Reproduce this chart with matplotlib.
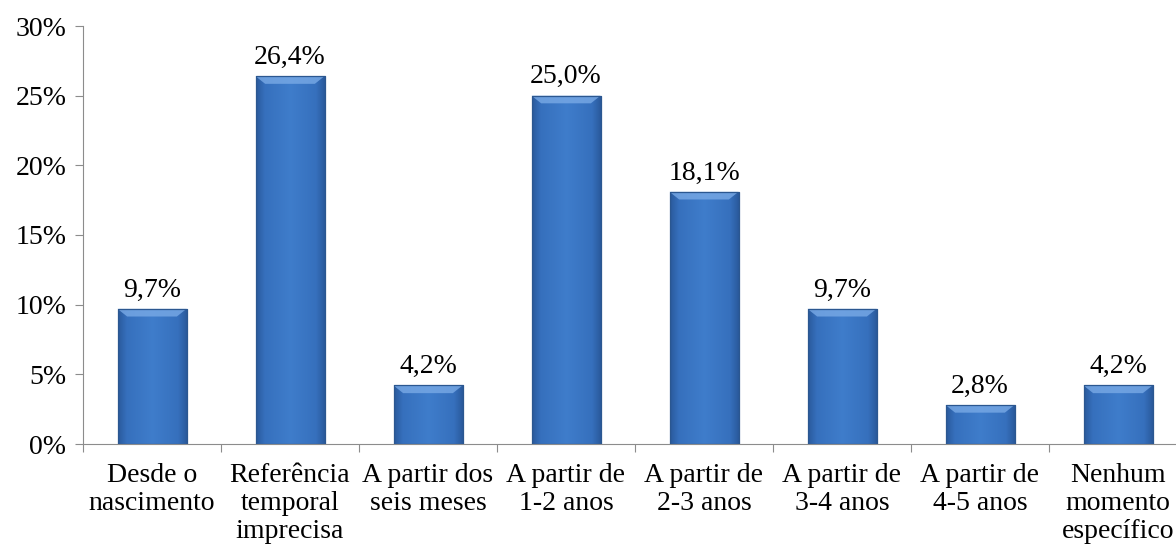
import numpy as np
import matplotlib.pyplot as plt
from matplotlib.colors import LinearSegmentedColormap

categories = ["Desde o\nnascimento", "Referência\ntemporal\nimprecisa", "A partir dos\nseis meses",
              "A partir de\n1-2 anos", "A partir de\n2-3 anos", "A partir de\n3-4 anos",
              "A partir de\n4-5 anos", "Nenhum\nmomento\nespecífico"]
values = [9.7, 26.4, 4.2, 25.0, 18.1, 9.7, 2.8, 4.2]
labels = ["9,7%", "26,4%", "4,2%", "25,0%", "18,1%", "9,7%", "2,8%", "4,2%"]
yticks = [0, 5, 10, 15, 20, 25, 30]

plt.rcParams["font.family"] = ["Liberation Serif", "DejaVu Serif"]
FS = 20

fig = plt.figure(figsize=(11.76, 5.5), dpi=100)
ax = fig.add_axes([83 / 1176, 106 / 550, 1104 / 1176, 418 / 550])

x = np.arange(len(values))
width = 0.5

# bevelled blue gradient for each bar
cmap = LinearSegmentedColormap.from_list(
    "bev", [(0, "#2a5a9c"), (0.12, "#3670bd"), (0.5, "#3f7dcb"), (0.88, "#3670bd"), (1, "#2a5a9c")])
grad = np.linspace(0, 1, 64)[None, :]
bars = ax.bar(x, values, width, color="#3a77c6", linewidth=0, zorder=2)
for b, v in zip(bars, values):
    x0 = b.get_x()
    img = ax.imshow(grad, cmap=cmap, extent=(x0, x0 + width, 0, v), aspect="auto", zorder=2.5)
    img.set_clip_path(b)
    # lighter top bevel
    bev = 0.55
    ax.fill([x0, x0 + width, x0 + width - 0.07, x0 + 0.07], [v, v, v - bev, v - bev],
            color="#79aae6", alpha=0.8, lw=0, zorder=3)
    ax.plot([x0, x0 + width, x0 + width, x0, x0], [0, 0, v, v, 0], color="#2b5790", lw=0.9, zorder=3.5)

for xi, v, lab in zip(x, values, labels):
    ax.text(xi, v + 0.45, lab, ha="center", va="bottom", fontsize=FS)

ax.set_xlim(-0.5, len(values) - 0.5)
ax.set_ylim(0, 30)
ax.set_yticks(yticks)
ax.set_yticklabels([f"{t}%" for t in yticks], fontsize=FS)
ax.set_xticks(np.arange(len(values) + 1) - 0.5, minor=False)
ax.set_xticklabels([])
ax.set_xticks(x, minor=True)
ax.set_xticklabels(categories, minor=True, fontsize=FS, linespacing=1.15)
ax.tick_params(axis="x", which="minor", length=0, pad=14)
ax.tick_params(axis="x", which="major", length=6, color="#8c8c8c", direction="out")
ax.tick_params(axis="y", length=6, color="#8c8c8c", pad=6)

for s in ["top", "right"]:
    ax.spines[s].set_visible(False)
ax.spines["left"].set_color("#8c8c8c")
ax.spines["bottom"].set_color("#8c8c8c")

fig.savefig("out.png", dpi=100)
